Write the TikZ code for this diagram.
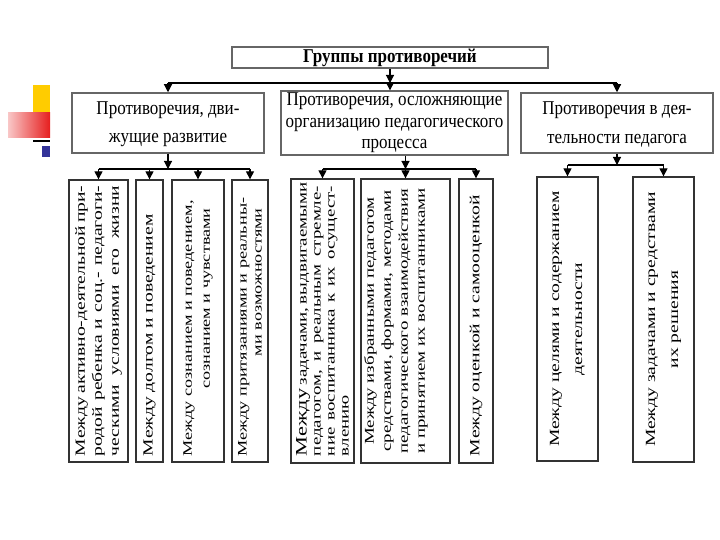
\documentclass[tikz,border=0pt]{standalone}
\usepackage{fontspec}
\setmainfont{Liberation Serif}
\usepackage{graphicx}
\usetikzlibrary{arrows.meta}

\definecolor{slideyellow}{RGB}{255,204,0}
\definecolor{slidered}{RGB}{230,30,30}
\definecolor{slideblue}{RGB}{51,51,153}

\newcommand{\gtxt}[2]{\scalebox{1}[1.15]{\fontsize{17}{#1}\selectfont\begin{tabular}{@{}c@{}}#2\end{tabular}}}
\newcommand{\itxt}[4]{\scalebox{1.4}[1]{\parbox{#1}{\fontsize{#2}{#3}\selectfont #4}}}
\newcommand{\jline}[1]{\makebox[\linewidth][s]{#1}}

\tikzset{
  groupbox/.style={draw=black!60,line width=1.5pt,inner sep=0pt},
  itembox/.style={draw=black!80,line width=1.3pt,inner sep=0pt,rotate=90},
  arr/.style={line width=1.1pt,-{Triangle[length=8pt,width=8pt]}},
  bus/.style={line width=1.1pt}
}

\begin{document}
\begin{tikzpicture}[x=1pt,y=-1pt]
\useasboundingbox (0,0) rectangle (720,540);

%slide marks
\fill[slideyellow] (33,85) rectangle (50,113);
\shade[left color=slidered!25,right color=slidered] (8,113) rectangle (50,138);
\fill[black] (33,140) rectangle (50,142);
\fill[slideblue] (42,146) rectangle (50,157);

%title and groups
\node[groupbox,minimum width=316pt,minimum height=21pt] (title) at (390,57.5)
  {\scalebox{1}[1.15]{\fontsize{17}{20}\selectfont\bfseries Группы противоречий}};
\node[groupbox,minimum width=192pt,minimum height=60pt] (dev) at (168,123)
  {\gtxt{24}{Противоречия, дви-\\жущие развитие}};
\node[groupbox,minimum width=227pt,minimum height=60pt] (org) at (394.5,123)
  {\raisebox{-3pt}{\gtxt{18.5}{Противоречия, осложняющие\\организацию педагогического\\процесса}}};
\node[groupbox,minimum width=192pt,minimum height=60pt] (teach) at (617,123)
  {\gtxt{25}{Противоречия в дея-\\тельности педагога}};

%items
\node[itembox,minimum width=282pt,minimum height=59pt] (b1) at (98.5,321)
  {\itxt{193pt}{14}{17}{\jline{Между активно-деятельной при-}\\\jline{родой ребенка и соц.- педагоги-}\\\jline{ческими условиями его жизни}}};
\node[itembox,minimum width=282pt,minimum height=27pt] (b2) at (149.5,321)
  {\itxt{193pt}{14}{16}{Между долгом и поведением}};
\node[itembox,minimum width=282pt,minimum height=52pt] (b3) at (198,321)
  {\itxt{193pt}{13}{18}{\mbox{Между сознанием и поведением,}\\\mbox{}\hskip 0pt plus 1filll сознанием и чувствами\hspace*{16pt}}};
\node[itembox,minimum width=282pt,minimum height=36pt] (b4) at (250,321)
  {\itxt{193pt}{13}{15}{\mbox{Между притязаниями и реальны-}\\\mbox{}\hskip 0pt plus 1filll ми возможностями\hspace*{16pt}}};
\node[itembox,minimum width=284pt,minimum height=63pt] (b5) at (322.5,321)
  {\itxt{193pt}{13.5}{14}{\jline{{\fontsize{16}{14}\selectfont Между} задачами, выдвигаемыми}\\\jline{педагогом, и реальным стремле-}\\\jline{ние воспитанника к их осущест-}\\влению}};
\node[itembox,minimum width=284pt,minimum height=89pt] (b6) at (405.5,321)
  {\itxt{193pt}{13.5}{17}{\centering Между избранными педагогом\\средствами, формами, методами\\педагогического взаимодействия\\и принятием их воспитанниками\par\vspace*{19pt}}};
\node[itembox,minimum width=284pt,minimum height=34pt] (b7) at (476,321)
  {\itxt{193pt}{14}{16}{Между оценкой и самооценкой}};
\node[itembox,minimum width=284pt,minimum height=61pt] (b8) at (567.5,319)
  {\itxt{193pt}{14}{23}{\centering Между целями и содержанием\\деятельности}};
\node[itembox,minimum width=285pt,minimum height=61pt] (b9) at (663.5,319.5)
  {\itxt{193pt}{14}{23}{\centering Между задачами и средствами\\их решения}};

%bus levels
\coordinate (tbus) at (0,83);
\coordinate (lbus) at (0,169);
\coordinate (mbus) at (0,169);
\coordinate (rbus) at (0,165);

%arrows
\draw[arr] (title.south) -- (title.south |- tbus);
\draw[bus] (dev.north |- tbus) -- (teach.north |- tbus);
\draw[arr] (title.south |- tbus) -- (title.south |- org.north);
\foreach \g in {dev,teach}
  \draw[arr] (\g.north |- tbus) -- (\g.north);

\draw[arr] (dev.south) -- (dev.south |- lbus);
\draw[bus] (b1.east |- lbus) -- (b4.east |- lbus);
\foreach \b in {b1,b2,b3,b4}
  \draw[arr] (\b.east |- lbus) -- (\b.east);

\draw[arr] (b6.east |- org.south) -- (b6.east |- mbus);
\draw[bus] (b5.east |- mbus) -- (b7.east |- mbus);
\foreach \b in {b5,b6,b7}
  \draw[arr] (\b.east |- mbus) -- (\b.east);

\draw[arr] (teach.south) -- (teach.south |- rbus);
\draw[bus] (b8.east |- rbus) -- (b9.east |- rbus);
\foreach \b in {b8,b9}
  \draw[arr] (\b.east |- rbus) -- (\b.east);
\end{tikzpicture}
\end{document}
